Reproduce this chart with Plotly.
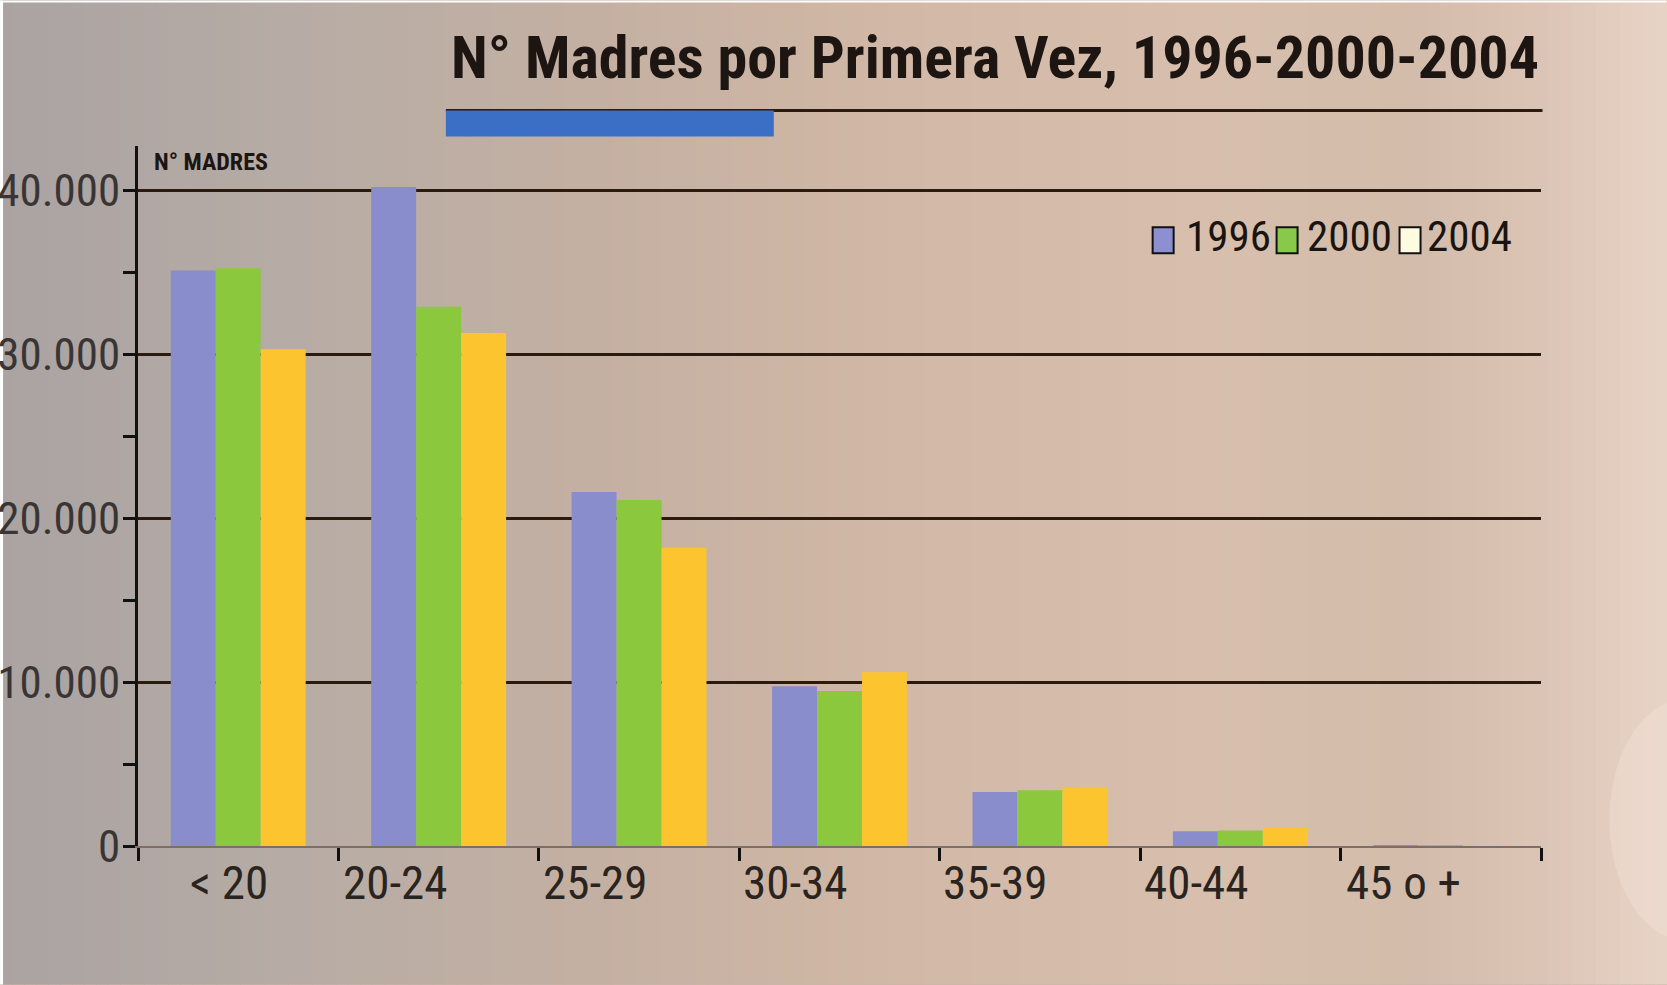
import plotly.graph_objects as go

# ---------------- data ----------------
age_groups = ["< 20", "20-24", "25-29", "30-34", "35-39", "40-44", "45 o +"]
years = ["1996", "2000", "2004"]
madres_1996 = [35100, 40200, 21600, 9750, 3300, 900, 40]
madres_2000 = [35250, 32900, 21100, 9450, 3400, 950, 50]
madres_2004 = [30300, 31300, 18200, 10600, 3550, 1100, 60]
y_tick_vals = [0, 10000, 20000, 30000, 40000]

title_text = "N° Madres por Primera Vez, 1996-2000-2004"
y_label_text = "N° MADRES"

bar_colors = ["#8a8dcc", "#8cc83e", "#fcc530"]
legend_colors = ["#8d90d0", "#88c84a", "#fffbe0"]

# ---------------- geometry ----------------
W, H = 1667, 985
ML, MR, MT, MB = 138, 125.5, 145.6, 138.7
PW, PH = W - ML - MR, H - MT - MB


def px(x):
    return (x - ML) / PW


def py(y):
    return 1 - (y - MT) / PH


COND = "Roboto Condensed, DejaVu Sans Condensed, sans-serif"

fig = go.Figure()
for name, vals, col in zip(years, [madres_1996, madres_2000, madres_2004], bar_colors):
    fig.add_trace(go.Bar(x=age_groups, y=vals, name=name, marker=dict(color=col, line=dict(width=0)),
                         showlegend=False))

shapes = []
# background gradient (decoration)
stops = [(0, (170, 163, 162)), (300, (183, 172, 165)), (600, (196, 176, 162)), (900, (210, 184, 166)),
         (1200, (216, 191, 173)), (1420, (211, 188, 171)), (1550, (220, 197, 182)), (1667, (232, 212, 198))]


def col_at(x):
    for (x0, c0), (x1, c1) in zip(stops[:-1], stops[1:]):
        if x0 <= x <= x1:
            t = (x - x0) / (x1 - x0)
            return "rgb(%d,%d,%d)" % tuple(round(a + (b - a) * t) for a, b in zip(c0, c1))
    return "rgb(%d,%d,%d)" % stops[-1][1]


step = 12
for xs in range(0, W, step):
    shapes.append(dict(type="rect", xref="paper", yref="paper", x0=px(xs), x1=px(xs + step + 1),
                       y0=py(H), y1=py(0), fillcolor=col_at(xs + step / 2), line=dict(width=0),
                       layer="below"))
# light patch lower right
shapes.append(dict(type="circle", xref="paper", yref="paper", x0=px(1610), x1=px(1760), y0=py(940),
                   y1=py(700), fillcolor="rgba(245,230,220,0.35)", line=dict(width=0), layer="below"))
# thin white border at left and top of the scanned picture
shapes.append(dict(type="rect", xref="paper", yref="paper", x0=px(0), x1=px(3), y0=py(H), y1=py(0),
                   fillcolor="#ffffff", line=dict(width=0), layer="below"))
shapes.append(dict(type="rect", xref="paper", yref="paper", x0=px(0), x1=px(W), y0=py(2), y1=py(0),
                   fillcolor="#ffffff", line=dict(width=0), layer="below"))

# title underline + blue accent
shapes.append(dict(type="line", xref="paper", yref="paper", x0=px(446), x1=px(1543), y0=py(110), y1=py(110),
                   line=dict(color="#2a1a10", width=3)))
shapes.append(dict(type="rect", xref="paper", yref="paper", x0=px(446), x1=px(774), y0=py(136), y1=py(110),
                   fillcolor="#3b6fc6", line=dict(width=0)))

# legend squares
sq_x = [1153, 1277, 1400]
for x0, c in zip(sq_x, legend_colors):
    shapes.append(dict(type="rect", xref="paper", yref="paper", x0=px(x0), x1=px(x0 + 21), y0=py(253),
                       y1=py(227), fillcolor=c, line=dict(color="#111111", width=2)))

annotations = []
annotations.append(dict(text="<b>" + title_text + "</b>", xref="paper", yref="paper", x=px(1541), y=py(57),
                        xanchor="right", yanchor="middle", showarrow=False,
                        font=dict(family=COND, size=60, color="#1c1512")))
annotations.append(dict(text="<b>" + y_label_text + "</b>", xref="paper", yref="paper", x=px(152), y=py(162),
                        xanchor="left", yanchor="middle", showarrow=False,
                        font=dict(family=COND, size=24, color="#1c1512")))
leg_x = [1184, 1305, 1425]
for x0, t in zip(leg_x, years):
    annotations.append(dict(text=t, xref="paper", yref="paper", x=px(x0), y=py(236), xanchor="left",
                            yanchor="middle", showarrow=False,
                            font=dict(family=COND, size=43, color="#1a1410")))
# category labels, left-aligned just after each boundary tick
label_shift = [50, 3, 2, 2, 1, 2, 3]
for i, (lab, sh) in enumerate(zip(age_groups, label_shift)):
    annotations.append(dict(text=lab, xref="x", yref="paper", x=i - 0.5, y=py(883), xanchor="left",
                            xshift=sh, yanchor="middle", showarrow=False,
                            font=dict(family=COND, size=47, color="#2a2420")))

fig.update_layout(
    width=W, height=H,
    margin=dict(l=ML, r=MR, t=MT, b=MB, pad=0, autoexpand=False),
    paper_bgcolor="#c8b4a8",
    plot_bgcolor="rgba(0,0,0,0)",
    barmode="group",
    bargap=0.327,
    bargroupgap=0,
    separators=",.",
    shapes=shapes,
    annotations=annotations,
    showlegend=False,
    xaxis=dict(type="category", range=[-0.5, 6.5], showline=True, linecolor="#7d6f66", linewidth=2,
               ticks="outside", tickson="boundaries", ticklen=13, tickwidth=2.5, tickcolor="#111111",
               showticklabels=False, showgrid=False, zeroline=False, fixedrange=True, automargin=False),
    yaxis=dict(range=[0, 42700], tickvals=y_tick_vals, tickformat=",d", showline=True, linecolor="#111111",
               linewidth=2.5, ticks="outside", ticklen=12, tickwidth=2.5, tickcolor="#111111",
               showgrid=True, gridcolor="#2b1a0e", gridwidth=2.5, zeroline=False, automargin=False,
               ticklabelstandoff=-6,
               tickfont=dict(family=COND, size=45, color="#3a3535"),
               minor=dict(dtick=5000, ticks="outside", ticklen=12, tickwidth=2.5, tickcolor="#111111",
                          showgrid=False),
               fixedrange=True),
)

fig.write_html("out.html", config={"displayModeBar": False},
               post_script="document.body.style.margin='0';document.body.style.overflow='hidden';")
